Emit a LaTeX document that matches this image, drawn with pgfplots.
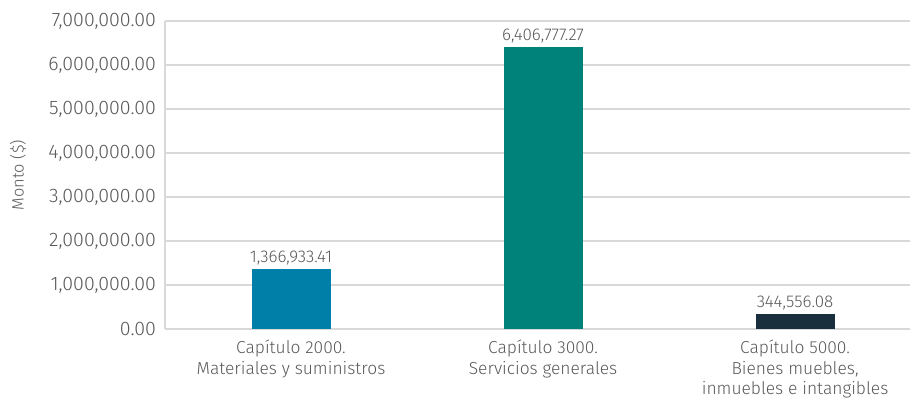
\documentclass[border=0pt]{standalone}
\usepackage{pgfplots}
\pgfplotsset{compat=1.18}
\usepackage{fontspec}
\setmainfont{Fira Sans}[UprightFont=* Light]
\definecolor{txt}{HTML}{595959}
\definecolor{grd}{HTML}{D9D9D9}
\definecolor{cA}{HTML}{0080A8}
\definecolor{cB}{HTML}{00827A}
\definecolor{cC}{HTML}{1A2F3D}
\begin{document}
\begin{tikzpicture}
\begin{axis}[
  at={(82.5pt,39pt)}, anchor=south west,
  scale only axis, width=372.5pt, height=154pt,
  xmin=-0.5, xmax=2.456, ymin=0, ymax=7000000,
  ytick={0,1000000,...,7000000},
  scaled y ticks=false,
  /pgf/number format/fixed, /pgf/number format/fixed zerofill, /pgf/number format/precision=2, /pgf/number format/1000 sep={,}, /pgf/number format/assume math mode=true,
  yticklabel style={font=\fontsize{9.8}{11}\selectfont, text=txt, xshift=-1pt},
  ymajorgrids, grid style={grd, line width=0.8pt},
  axis line style={grd, line width=0.8pt},
  axis x line*=bottom, axis y line*=left,
  major tick length=0pt,
  xtick={0,1,2},
  xticklabels={{Capítulo 2000.\\Materiales y suministros},{Capítulo 3000.\\Servicios generales},{Capítulo 5000.\\Bienes muebles,\\inmuebles e intangibles}},
  xticklabel style={align=center, font=\fontsize{8.7}{10.3}\selectfont, text=txt, yshift=-2pt},
  ylabel={Monto (\$)},
  ylabel style={at={(axis description cs:0,0.5)}, anchor=center, yshift=73.5pt, font=\fontsize{8.2}{10}\selectfont, text=txt},
  ybar, bar width=39.5pt, bar shift=0pt,
  nodes near coords, point meta=explicit symbolic,
  every node near coord/.style={font=\fontsize{8.5}{10}\selectfont, text=txt, anchor=south, yshift=-1.5pt},
]
\addplot[fill=cA, draw=none] table[meta=l] {
x y l
0 1366933.41 1,366,933.41
};
\addplot[fill=cB, draw=none] table[meta=l] {
x y l
1 6406777.27 6,406,777.27
};
\addplot[fill=cC, draw=none] table[meta=l] {
x y l
2 344556.08 344,556.08
};
\end{axis}
\pgfresetboundingbox
\useasboundingbox (0,0) rectangle (455pt,203.5pt);
\end{tikzpicture}
\end{document}
